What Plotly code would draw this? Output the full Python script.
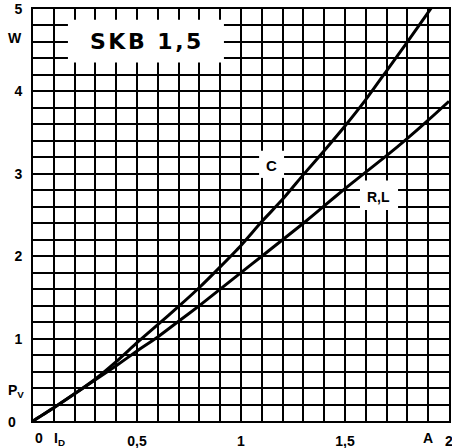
import plotly.graph_objects as go

# current I_D (A)
current = [0, 0.1, 0.2, 0.3, 0.4, 0.5, 0.6, 0.7, 0.8, 0.9, 1.0,
           1.1, 1.2, 1.3, 1.4, 1.5, 1.6, 1.7, 1.8, 1.9, 2.0]
# power loss P_V (W), capacitive load
p_c = [0, 0.16, 0.33, 0.51, 0.72, 0.95, 1.17, 1.39, 1.62, 1.87, 2.13,
       2.42, 2.69, 2.99, 3.28, 3.58, 3.90, 4.25, 4.60, 4.96, 5.32]
# power loss P_V (W), resistive / inductive load
p_rl = [0, 0.16, 0.33, 0.50, 0.67, 0.85, 1.02, 1.21, 1.40, 1.60, 1.80,
        2.00, 2.20, 2.40, 2.61, 2.82, 3.02, 3.22, 3.43, 3.65, 3.88]

x_ticks = [0.5, 1.0, 1.5, 2.0]
x_labels = ["0,5", "1", "1,5", "2"]
y_ticks = [1, 2, 3, 4, 5]
y_labels = ["1", "2", "3", "4", "5"]

FONT = "Liberation Sans"

fig = go.Figure()
for ys in (p_c, p_rl):
    fig.add_trace(go.Scatter(x=current, y=ys, mode="lines",
                             line=dict(color="black", width=3, shape="spline", smoothing=0.5),
                             showlegend=False, hoverinfo="skip"))

# white label boxes
boxes = [(0.168, 0.918, 4.35, 4.87), (1.087, 1.207, 2.95, 3.28), (1.572, 1.755, 2.56, 2.92)]
for x0, x1, y0, y1 in boxes:
    fig.add_shape(type="rect", x0=x0, x1=x1, y0=y0, y1=y1, xref="x", yref="y",
                  fillcolor="white", line=dict(width=0), layer="above")

ann = dict(showarrow=False, font=dict(family=FONT, size=14, color="black"))
fig.add_annotation(x=0.55, y=4.6,
                   text="<span style='letter-spacing:2.5px'><b>SKB 1,5</b></span>",
                   **{**ann, "font": dict(family="DejaVu Sans", size=22, color="black")})
fig.add_annotation(x=1.147, y=3.1, text="<b>C</b>", **{**ann, "font": dict(family=FONT, size=15, color="black")})
fig.add_annotation(x=1.662, y=2.72, text="<b>R,L</b>", **{**ann, "font": dict(family=FONT, size=14, color="black")})
fig.add_annotation(x=0, y=4.65, xshift=-18, text="<b>W</b>", **ann)
fig.add_annotation(x=0, y=0.36, xshift=-17, text="<b>P<sub>V</sub></b>", **ann)
fig.add_annotation(x=0, y=0, xshift=-21, yshift=-1, text="<b>0</b>", **ann)
fig.add_annotation(x=0, y=0, xshift=6, yshift=-17, text="<b>0</b>", **ann)
fig.add_annotation(x=0.125, y=0, yshift=-18, text="<b>I<sub>D</sub></b>", **ann)
fig.add_annotation(x=1.9, y=0, yshift=-17, text="<b>A</b>", **ann)

axis_style = dict(showgrid=True, gridcolor="black", gridwidth=2,
                  showline=True, linecolor="black", linewidth=2, mirror=True,
                  zeroline=False, ticks="", ticklabelstandoff=6, automargin=False,
                  ticklabeloverflow="allow", fixedrange=True,
                  tickfont=dict(family=FONT, size=14, color="black"))
fig.update_xaxes(range=[0, 2], tickvals=x_ticks,
                 ticktext=["<b>%s</b>" % t for t in x_labels],
                 minor=dict(tick0=0, dtick=0.1, showgrid=True, gridcolor="black", gridwidth=2),
                 **axis_style)
fig.update_yaxes(range=[0, 5], tickvals=y_ticks,
                 ticktext=["<b>%s</b>" % t for t in y_labels],
                 minor=dict(tick0=0, dtick=0.2, showgrid=True, gridcolor="black", gridwidth=2),
                 **axis_style)

fig.update_layout(width=452, height=448,
                  margin=dict(l=33, r=3, t=9, b=27),
                  paper_bgcolor="white", plot_bgcolor="white")

# drop the page's default body margin so the figure sits at the top-left corner
fig.write_html("out.html", config={"displayModeBar": False},
               post_script="document.body.style.margin = '0';")
